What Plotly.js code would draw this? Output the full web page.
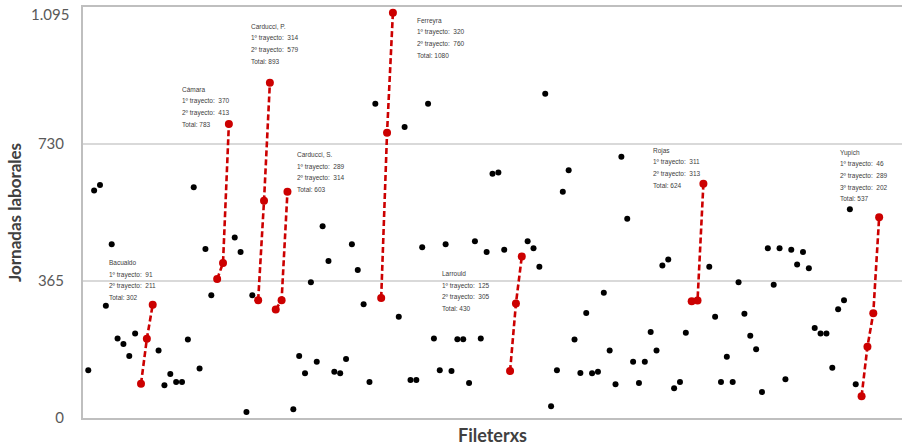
<!DOCTYPE html>
<html>
<head>
<meta charset="utf-8">
<script src="https://cdn.plot.ly/plotly-3.0.1.min.js"></script>
<style>
html,body{margin:0;padding:0;background:#fff;}
#chart{width:912px;height:446px;}
</style>
</head>
<body>
<div id="chart"></div>
<script>
// Jornadas laborales por fileterx, en el orden del eje horizontal (136 puntos)
const jornadas = [
  127, 606, 621, 299, 463, 212, 197, 165, 225,
  91, 211, 302,
  180, 87, 117, 96, 96, 209, 615, 132, 450, 327,
  370, 413, 783,
  481, 442, 16, 327,
  314, 579, 893,
  289, 314, 603,
  23, 165, 119, 362, 150, 511, 418, 123, 119, 157, 463, 394, 303, 96, 837,
  320, 760, 1080,
  270, 775, 101, 101, 455, 837, 212, 127, 463, 125, 210, 210, 93, 471, 212, 442, 651, 654, 448,
  125, 305, 430,
  471, 452, 403, 864, 31, 127, 603, 660, 209, 120, 280, 119, 123, 334, 180, 90, 696, 531, 150, 93, 150, 229, 180, 406, 422, 79, 96, 227,
  311, 313, 624,
  403, 270, 96, 163, 96, 362, 278, 219, 183, 69, 452, 355, 452, 103, 448, 409, 442, 399, 240, 225, 225, 134, 290, 314, 556, 90,
  58, 190, 279, 535
];

// Fileterxs destacadxs (trayectos en rojo)
const trabajadores = ['Bacualdo', 'Cámara', 'Carducci, P.', 'Carducci, S.', 'Ferreyra', 'Larrould', 'Rojas', 'Yupich'];
const inicio = [10, 23, 30, 33, 51, 73, 104, 133];   // posición (1..136) del primer punto
const cantidad = [3, 3, 3, 3, 3, 3, 3, 4];           // puntos de cada trayecto
const trayecto1 = [91, 370, 314, 289, 320, 125, 311, 46];
const trayecto2 = [211, 413, 579, 314, 760, 305, 313, 289];
const trayecto3 = [null, null, null, null, null, null, null, 202];
const totales = [302, 783, 893, 603, 1080, 430, 624, 537];

const yTicks = [0, 365, 730, 1095];
const yTickText = ['0', '365', '730', '1.095'];

// ---- construcción ----
const posiciones = jornadas.map((_, i) => i + 1);
const esRojo = new Array(jornadas.length).fill(false);
inicio.forEach((s, g) => { for (let k = 0; k < cantidad[g]; k++) esRojo[s - 1 + k] = true; });

const negrosX = [], negrosY = [];
posiciones.forEach((p, i) => { if (!esRojo[i]) { negrosX.push(p); negrosY.push(jornadas[i]); } });

const rojo = 'rgb(204,0,0)';
const traces = [{
  type: 'scatter', mode: 'markers', x: negrosX, y: negrosY,
  marker: {color: '#000000', size: 6}, hoverinfo: 'y', showlegend: false
}];
inicio.forEach((s, g) => {
  traces.push({
    type: 'scatter', mode: 'lines+markers', name: trabajadores[g],
    x: posiciones.slice(s - 1, s - 1 + cantidad[g]),
    y: jornadas.slice(s - 1, s - 1 + cantidad[g]),
    line: {color: rojo, width: 2.6, dash: '6px,3px'},
    marker: {color: rojo, size: 8},
    showlegend: false
  });
});

const tickFont = {family: 'Lato, Open Sans, sans-serif', size: 15, color: '#595959'};

// posición de cada recuadro de texto (eje x en posición, eje y en jornadas)
const etiquetaPos = [[4.2, 429], [16.6, 891], [28.4, 1059], [36.3, 717], [56.7, 1075], [61, 400], [97, 728], [128.9, 723]];
const annotations = [];
trabajadores.forEach((t, g) => {
  const lineas = [t, '1º trayecto:  ' + trayecto1[g], '2º trayecto:  ' + trayecto2[g]];
  if (trayecto3[g] !== null) lineas.push('3º trayecto:  ' + trayecto3[g]);
  lineas.push('Total: ' + totales[g]);
  lineas.forEach((txt, k) => {
    annotations.push({
      x: etiquetaPos[g][0], y: etiquetaPos[g][1], xref: 'x', yref: 'y',
      text: txt, showarrow: false, xanchor: 'left', yanchor: 'top',
      yshift: -k * 11.7,
      font: {family: 'Liberation Sans, Arial, sans-serif', size: 6.5, color: '#404040'}
    });
  });
});
// la etiqueta superior del eje (1.095) se dibuja aparte para que no quede cortada por el borde
const ultimo = yTicks.length - 1;
annotations.push({
  x: 0, xref: 'paper', y: yTicks[ultimo], yref: 'y',
  text: yTickText[ultimo], showarrow: false, xanchor: 'right', yanchor: 'top',
  xshift: -12, yshift: 4, font: tickFont
});

const layout = {
  width: 912, height: 446,
  margin: {l: 83, r: 10, t: 7, b: 28, autoexpand: false},
  paper_bgcolor: '#ffffff', plot_bgcolor: '#ffffff',
  showlegend: false,
  xaxis: {
    range: [0.1, 139.9], showgrid: false, zeroline: false, showticklabels: false, ticks: '',
    showline: true, linecolor: '#bfbfbf', linewidth: 2, mirror: true,
    title: {text: '<b>Fileterxs</b>', standoff: 10,
            font: {family: 'Lato, Open Sans, sans-serif', size: 18, color: '#404040'}},
    automargin: false
  },
  yaxis: {
    range: [0, 1095], tickvals: yTicks,
    ticktext: yTickText.map((t, i) => i === ultimo ? '' : t),
    showgrid: true, gridcolor: '#d9d9d9', gridwidth: 1.5, zeroline: false,
    showline: true, linecolor: '#bfbfbf', linewidth: 2, ticks: '',
    ticklabelstandoff: 14,
    tickfont: tickFont,
    title: {text: '<b>Jornadas laborales</b>', standoff: 12,
            font: {family: 'Lato, Open Sans, sans-serif', size: 17, color: '#404040'}},
    automargin: false
  },
  annotations: annotations
};

Plotly.newPlot('chart', traces, layout, {displayModeBar: false, staticPlot: true});
</script>
</body>
</html>
